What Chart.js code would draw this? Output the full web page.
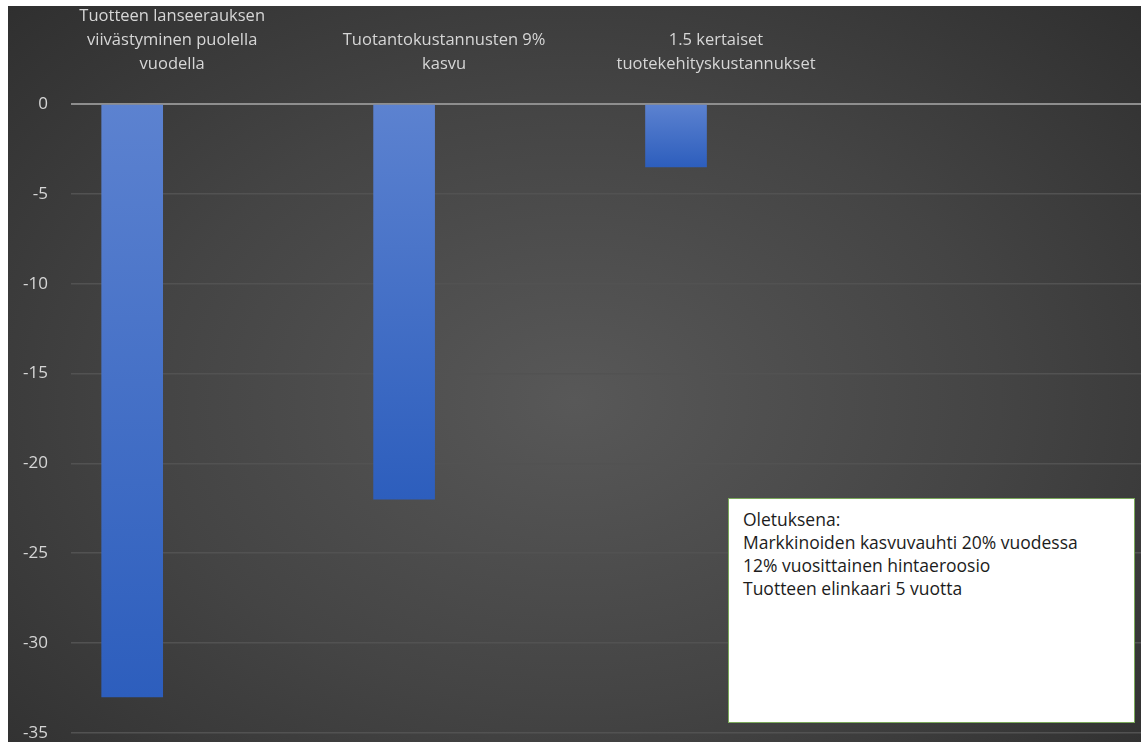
<!DOCTYPE html>
<html>
<head>
<meta charset="utf-8">
<script src="https://cdn.jsdelivr.net/npm/chart.js@4"></script>
<style>
  html, body { margin: 0; padding: 0; background: #fff; overflow: hidden; }
  #wrap {
    position: absolute; left: 8px; top: 6px; width: 1133px; height: 760px;
    background: radial-gradient(ellipse 75% 80% at 50% 52%, #585858 0%, #444 50%, #2c2c2c 100%);
  }
  #note {
    position: absolute; left: 728px; top: 498px; width: 385px; height: 211px;
    background: #fff; border: 1px solid #7aa95a; padding: 9px 6px 3px 14px;
    font-family: "Open Sans", sans-serif; font-size: 17.5px; line-height: 23px; color: #1c1c1c;
  }
</style>
</head>
<body>
<div id="wrap"><canvas id="c"></canvas></div>
<div id="note">Oletuksena:<br>Markkinoiden kasvuvauhti 20% vuodessa<br>12% vuosittainen hintaeroosio<br>Tuotteen elinkaari 5 vuotta</div>
<script>
// ------------------------------------------------------------
//  data
// ------------------------------------------------------------
var categories = [
    ['Tuotteen lanseerauksen', 'viivästyminen puolella', 'vuodella'],
    ['Tuotantokustannusten 9%', 'kasvu'],
    ['1.5 kertaiset', 'tuotekehityskustannukset']
];
var values = [-33, -22, -3.5];
var yTicks = [0, -5, -10, -15, -20, -25, -30, -35];

function barFill(ctx) {
    var chart = ctx.chart;
    if (!chart.chartArea || ctx.raw == null) return '#4472c4';
    var y = chart.scales.y;
    var top = y.getPixelForValue(0);
    var bot = y.getPixelForValue(ctx.raw.y);
    if (!isFinite(top) || !isFinite(bot) || top === bot) return '#4472c4';
    var g = chart.ctx.createLinearGradient(0, top, 0, bot);
    g.addColorStop(0, '#5c82d0');
    g.addColorStop(1, '#2d5ebd');
    return g;
}

var points = values.map(function(v, i){ return { x: i, y: v }; });

new Chart(document.getElementById('c'), {
    type: 'bar',
    data: {
        datasets: [{ data: points, backgroundColor: barFill, borderWidth: 0, barThickness: 61 }]
    },
    options: {
        responsive: true, maintainAspectRatio: false, animation: false,
        layout: { padding: 0 },
        plugins: { legend: { display: false }, tooltip: { enabled: false } },
        scales: {
            x: {
                type: 'linear', position: 'top', offset: false,
                min: -0.225, max: 3.71,
                afterBuildTicks: function(s){ s.ticks = categories.map(function(c, i){ return { value: i }; }); },
                afterFit: function(s){ s.height = 98; },
                grid: { display: false, drawTicks: false, offset: false },
                border: { display: false },
                ticks: {
                    color: '#d6d6d6', padding: 28, labelOffset: 40, maxRotation: 0, autoSkip: false,
                    font: { family: 'Open Sans', size: 16.5, lineHeight: 1.45 },
                    callback: function(v){ return categories[v]; }
                }
            },
            y: {
                min: -35, max: 0,
                afterBuildTicks: function(s){ s.ticks = yTicks.map(function(v){ return { value: v }; }); },
                afterFit: function(s){ s.width = 59; },
                grid: {
                    drawTicks: false,
                    color: function(c){ return c.tick && c.tick.value === 0 ? '#8e8e8e' : '#525252'; },
                    lineWidth: function(c){ return c.tick && c.tick.value === 0 ? 2 : 1.5; }
                },
                border: { display: false },
                ticks: { color: '#d6d6d6', padding: 23, font: { family: 'Open Sans', size: 17 } }
            }
        }
    }
});
</script>
</body>
</html>
